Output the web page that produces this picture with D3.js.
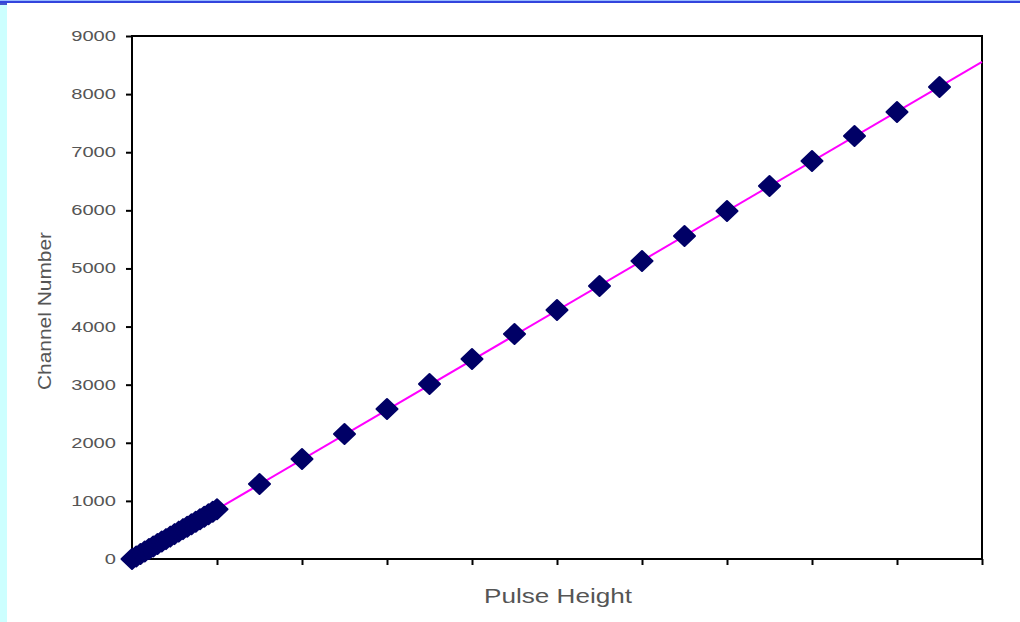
<!DOCTYPE html>
<html><head><meta charset="utf-8">
<script src="https://cdn.jsdelivr.net/npm/d3@7"></script>
<style>body{margin:0;background:#fff}svg{display:block}</style>
</head><body>
<script>
const xTicks = [0,1,2,3,4,5,6,7,8,9,10];
const yTicks = [0,1000,2000,3000,4000,5000,6000,7000,8000,9000];
const denseX = [0,0.05,0.1,0.15,0.2,0.25,0.3,0.35,0.4,0.45,0.5,0.55,0.6,0.65,0.7,0.75,0.8,0.85,0.9,0.95,1.0];
const denseY = [0,43,86,128,171,214,257,300,342,385,428,471,514,556,599,642,685,728,770,813,856];
const pointX = [1.5,2,2.5,3,3.5,4,4.5,5,5.5,6,6.5,7,7.5,8,8.5,9,9.5];
const pointY = [1290,1721,2151,2581,3011,3442,3872,4285,4698,5128,5558,5988,6419,6849,7279,7692,8122];
const fitX = [0,10];
const fitY = [0,8553];

const W=1020,H=622;
const svg=d3.select("body").append("svg").attr("width",W).attr("height",H);
svg.append("rect").attr("width",W).attr("height",H).attr("fill","#fff");
svg.append("rect").attr("x",0).attr("y",0).attr("width",7).attr("height",H).attr("fill","#ccffff");
svg.append("rect").attr("x",0).attr("y",0).attr("width",W).attr("height",1).attr("fill","#99bbff");
svg.append("rect").attr("x",0).attr("y",1).attr("width",W).attr("height",2).attr("fill","#3344dd");
svg.append("rect").attr("x",0).attr("y",3).attr("width",7).attr("height",2).attr("fill","#4455cc");

const L=132,R=982,T=36,B=559;
const x=d3.scaleLinear().domain([0,10]).range([L,R]);
const y=d3.scaleLinear().domain([0,9000]).range([B,T]);

const font="'Liberation Sans', Arial, sans-serif";
const yAxis=svg.append("g").attr("transform",`translate(${L},0)`)
  .call(d3.axisLeft(y).tickValues(yTicks).tickSize(6).tickPadding(10).tickFormat(d3.format("d")));
yAxis.selectAll("text").attr("font-family",font).attr("font-size",14).attr("fill","#555")
  .attr("textLength",function(){return this.textContent.length*11.2;})
  .attr("lengthAdjust","spacingAndGlyphs");
yAxis.select(".domain").remove();
yAxis.selectAll("line").attr("stroke","#000").attr("stroke-width",2);

const xAxis=svg.append("g").attr("transform",`translate(0,${B})`)
  .call(d3.axisBottom(x).tickValues(xTicks).tickSize(6).tickFormat(()=>""));
xAxis.select(".domain").remove();
xAxis.selectAll("line").attr("stroke","#000").attr("stroke-width",2);

svg.append("rect").attr("x",L).attr("y",T).attr("width",R-L).attr("height",B-T)
  .attr("fill","none").attr("stroke","#000").attr("stroke-width",2);

const line=d3.line().x(d=>x(d[0])).y(d=>y(d[1]));
svg.append("path").datum(fitX.map((v,i)=>[v,fitY[i]])).attr("d",line)
  .attr("fill","none").attr("stroke","#ff00ff").attr("stroke-width",2);

const pts=denseX.map((v,i)=>[v,denseY[i]]).concat(pointX.map((v,i)=>[v,pointY[i]]));
const dia="M0,-10 L10.5,0 L0,10 L-10.5,0 Z";
svg.append("g").selectAll("path").data(pts).join("path")
  .attr("d",dia).attr("transform",d=>`translate(${x(d[0])},${y(d[1])})`)
  .attr("fill","#000066").attr("stroke","#000066").attr("stroke-width",2).attr("stroke-linejoin","round");

svg.append("text").attr("x",558).attr("y",603).attr("text-anchor","middle")
  .attr("font-family",font).attr("font-size",20).attr("fill","#555")
  .attr("textLength",148).attr("lengthAdjust","spacingAndGlyphs").text("Pulse Height");
svg.append("text").attr("transform",`translate(51,311) rotate(-90)`).attr("text-anchor","middle")
  .attr("font-family",font).attr("font-size",18).attr("fill","#555")
  .attr("textLength",158).attr("lengthAdjust","spacingAndGlyphs").text("Channel Number");
</script>
</body></html>
